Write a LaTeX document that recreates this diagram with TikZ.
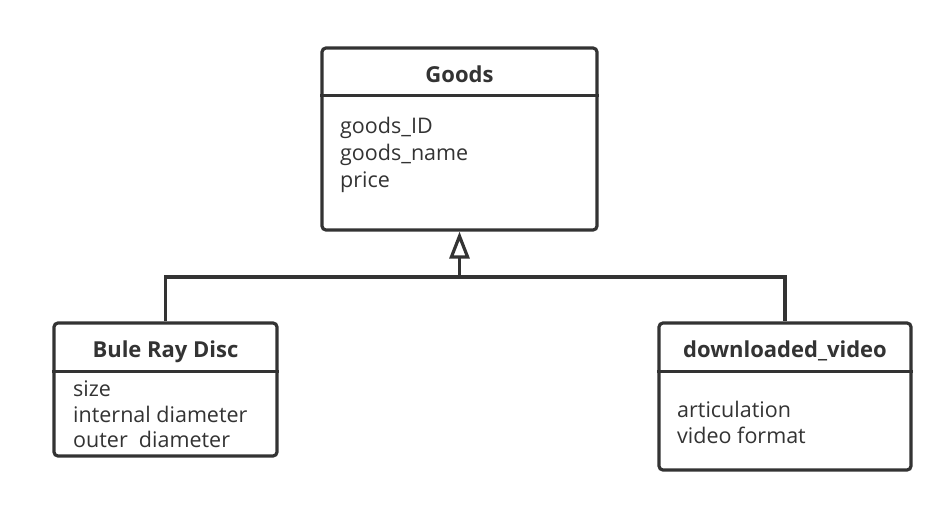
\documentclass[tikz,border=0pt]{standalone}
\usepackage{fontspec}
\setmainfont{Open Sans}
\usetikzlibrary{arrows.meta}
\definecolor{ink}{HTML}{333333}
\tikzset{
  classbox/.style={draw=ink, line width=3.2pt, rounded corners=4pt, inner sep=0pt, fill=white},
  title/.style={text=ink, font=\fontsize{22}{26}\selectfont\bfseries, inner sep=0pt, anchor=center},
  attr/.style={text=ink, font=\fontsize{21.5}{26}\selectfont, inner sep=0pt, anchor=base west},
  divider/.style={draw=ink, line width=3.2pt},
  link/.style={draw=ink, line width=3.2pt},
}
\begin{document}
\begin{tikzpicture}[x=1pt,y=-1pt]
\useasboundingbox (0,0) rectangle (949,522);
% Goods
\node[classbox, minimum width=275, minimum height=182] (goods) at (459.5,139) {};
\draw[divider] ([yshift=-49pt]goods.north west) -- ([yshift=-49pt]goods.north east);
\node[title] (goodsT) at (459.5,74) {Goods};
\node[attr] (g1) at (340,133) {goods\_ID};
\node[attr] (g2) at (340,160) {goods\_name};
\node[attr] (g3) at (340,187) {price};
% Bule Ray Disc
\node[classbox, minimum width=223, minimum height=133] (brd) at (165.5,389.5) {};
\draw[divider] ([yshift=-50pt]brd.north west) -- ([yshift=-50pt]brd.north east);
\node[title] (brdT) at (165.5,352) {Bule Ray Disc};
\node[attr] (b1) at (73,396) {size};
\node[attr] (b2) at (73,422) {internal diameter};
\node[attr] (b3) at (73,447) {outer\ \ diameter};
% downloaded_video
\node[classbox, minimum width=252, minimum height=147] (dv) at (785,396.5) {};
\draw[divider] ([yshift=-50pt]dv.north west) -- ([yshift=-50pt]dv.north east);
\node[title] (dvT) at (785,351) {downloaded\_video};
\node[attr] (d1) at (677,417) {articulation};
\node[attr] (d2) at (677,443) {video format};
% connectors
\coordinate (j) at (459.5,277);
\draw[link, -{Triangle[open, width=20pt, length=27pt, line width=3.2pt]}] (j) -- (goods.south);
\draw[link] (brd.north) |- (j) -| (dv.north);
\end{tikzpicture}
\end{document}
